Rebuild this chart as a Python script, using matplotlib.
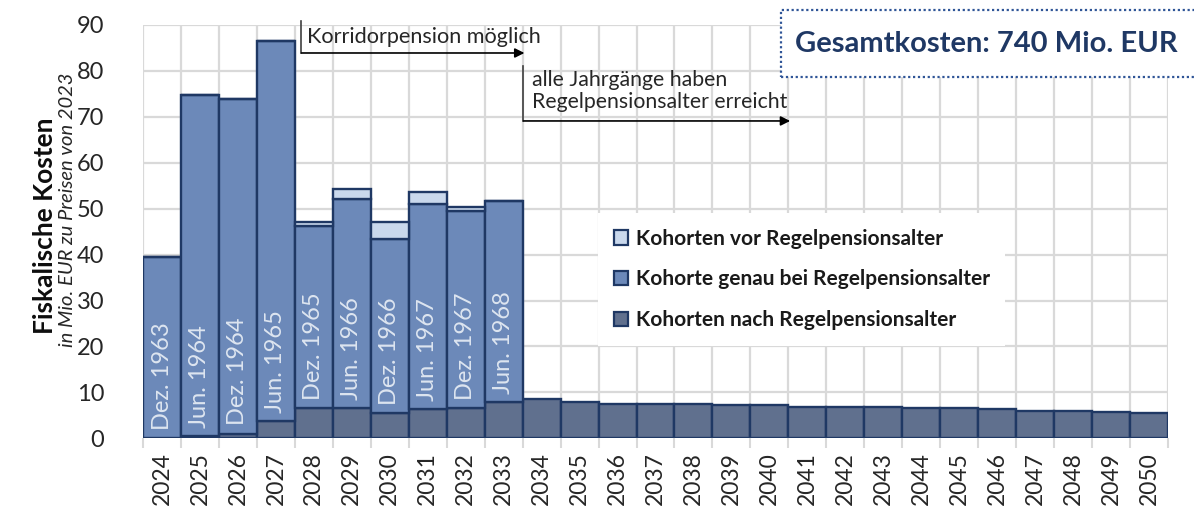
import numpy as np
import matplotlib
matplotlib.use("Agg")
import matplotlib.pyplot as plt
from matplotlib.patches import Rectangle, Patch

plt.rcParams['font.family'] = ['Lato', 'DejaVu Sans']

# data
years = list(range(2024, 2051))
nach = [0, 0.5, 1.0, 3.7, 6.5, 6.5, 5.4, 6.3, 6.5, 7.9,
        8.6, 7.8, 7.5, 7.5, 7.5, 7.2, 7.2, 6.9, 6.9, 6.9,
        6.6, 6.6, 6.3, 6.0, 6.0, 5.7, 5.5]
genau = [39.5, 74.2, 72.8, 82.9, 39.8, 45.6, 38.0, 44.7, 42.9, 43.8] + [0] * 17
vor = [0, 0, 0, 0, 0.8, 2.1, 3.7, 2.7, 1.0, 0] + [0] * 17
kohorten = ['Dez. 1963', 'Jun. 1964', 'Dez. 1964', 'Jun. 1965', 'Dez. 1965',
            'Jun. 1966', 'Dez. 1966', 'Jun. 1967', 'Dez. 1967', 'Jun. 1968']

c_nach = '#60708e'
c_genau = '#6c89b9'
c_vor = '#c9d8ec'
c_edge = '#1f3864'

x = np.arange(len(years))
nach = np.array(nach)
genau = np.array(genau)
vor = np.array(vor)

fig = plt.figure(figsize=(11.94, 5.16), dpi=100)
ax = fig.add_axes([0.1198, 0.1506, 0.8584, 0.801])

ax.bar(x, nach, width=1, color=c_nach, edgecolor=c_edge, linewidth=1.7, zorder=3)
n10 = len(kohorten)
ax.bar(x[:n10], genau[:n10], bottom=nach[:n10], width=1, color=c_genau,
       edgecolor=c_edge, linewidth=1.7, zorder=3)
ax.bar(x[:n10], vor[:n10], bottom=(nach + genau)[:n10], width=1, color=c_vor,
       edgecolor=c_edge, linewidth=1.7, zorder=3)

for i, lab in enumerate(kohorten):
    ax.text(x[i], nach[i] + 1.8, lab, rotation=90, ha='center', va='bottom',
            color='#dde5f0', fontsize=17, zorder=4)

ax.set_xlim(-0.5, len(years) - 0.5)
ax.set_ylim(0, 90)
ax.set_yticks(np.arange(0, 91, 10))
ax.set_xticks(np.arange(-0.5, len(years), 1))
ax.set_xticklabels([])
ax.set_xticks(x, [str(y) for y in years], minor=True, rotation=90)
ax.tick_params(axis='x', which='major', length=7, width=1.5, color='#d9d9d9')
ax.tick_params(axis='x', which='minor', length=0, labelsize=16.5, pad=10, labelcolor='#262626')
ax.tick_params(axis='y', length=0, labelsize=17, pad=28, labelcolor='#262626')
ax.grid(True, which='major', color='#d9d9d9', linewidth=1.6, zorder=0)
ax.set_axisbelow(True)
for s in ax.spines.values():
    s.set_visible(False)

# y label
fig.text(0.0375, 0.352, 'Fiskalische Kosten', rotation=90, ha='center', va='bottom',
         fontsize=19, fontweight='bold', color='#0d0d0d')
fig.text(0.0565, 0.328, 'in Mio. EUR zu Preisen von 2023', rotation=90, ha='center',
         va='bottom', fontsize=14.5, fontstyle='italic', color='#262626')

# annotations
ax.plot([3.65, 3.65], [90.8, 83.9], color='#404040', lw=1.2, clip_on=False, zorder=5)
ax.annotate('', xy=(9.62, 83.9), xytext=(3.6, 83.9),
            arrowprops=dict(arrowstyle='-|>', color='black', lw=1.2, mutation_scale=14),
            annotation_clip=False, zorder=5)
ax.text(3.82, 87.3, 'Korridorpension möglich', ha='left', va='center',
        fontsize=15.6, color='#262626', zorder=5)

ax.plot([9.5, 9.5], [81.0, 69.1], color='#404040', lw=1.2, zorder=5)
ax.annotate('', xy=(16.62, 69.1), xytext=(9.45, 69.1),
            arrowprops=dict(arrowstyle='-|>', color='black', lw=1.2, mutation_scale=14),
            zorder=5)
ax.text(9.75, 75.6, 'alle Jahrgänge haben\nRegelpensionsalter erreicht', ha='left',
        va='center', fontsize=15.3, color='#262626', linespacing=1.15, zorder=5)

# legend
handles = [Patch(facecolor=c_vor, edgecolor=c_edge, linewidth=1.6),
           Patch(facecolor=c_genau, edgecolor=c_edge, linewidth=1.6),
           Patch(facecolor=c_nach, edgecolor=c_edge, linewidth=1.6)]
labels = ['Kohorten vor Regelpensionsalter', 'Kohorte genau bei Regelpensionsalter',
          'Kohorten nach Regelpensionsalter']
leg = ax.legend(handles, labels, loc='upper left', bbox_to_anchor=(0.444, 0.545),
                borderaxespad=0, frameon=True, fancybox=False, framealpha=1,
                facecolor='white', edgecolor='none', handlelength=0.7, handleheight=0.7,
                handletextpad=0.35, labelspacing=1.0, borderpad=0.75,
                prop={'weight': 'bold', 'size': 15})
for t in leg.get_texts():
    t.set_color('#1a1a1a')
leg.set_zorder(6)

# total cost box
fig.patches.append(Rectangle((0.654, 0.851), 0.36, 0.13, transform=fig.transFigure,
                             facecolor='white', edgecolor='#2f5597', linewidth=1.6,
                             linestyle=(0, (1, 1.2)), zorder=10))
fig.text(0.826, 0.915, 'Gesamtkosten: 740 Mio. EUR', ha='center', va='center',
         fontsize=21, fontweight='bold', color='#1f3864', zorder=11)

fig.savefig('out.png', dpi=100)
